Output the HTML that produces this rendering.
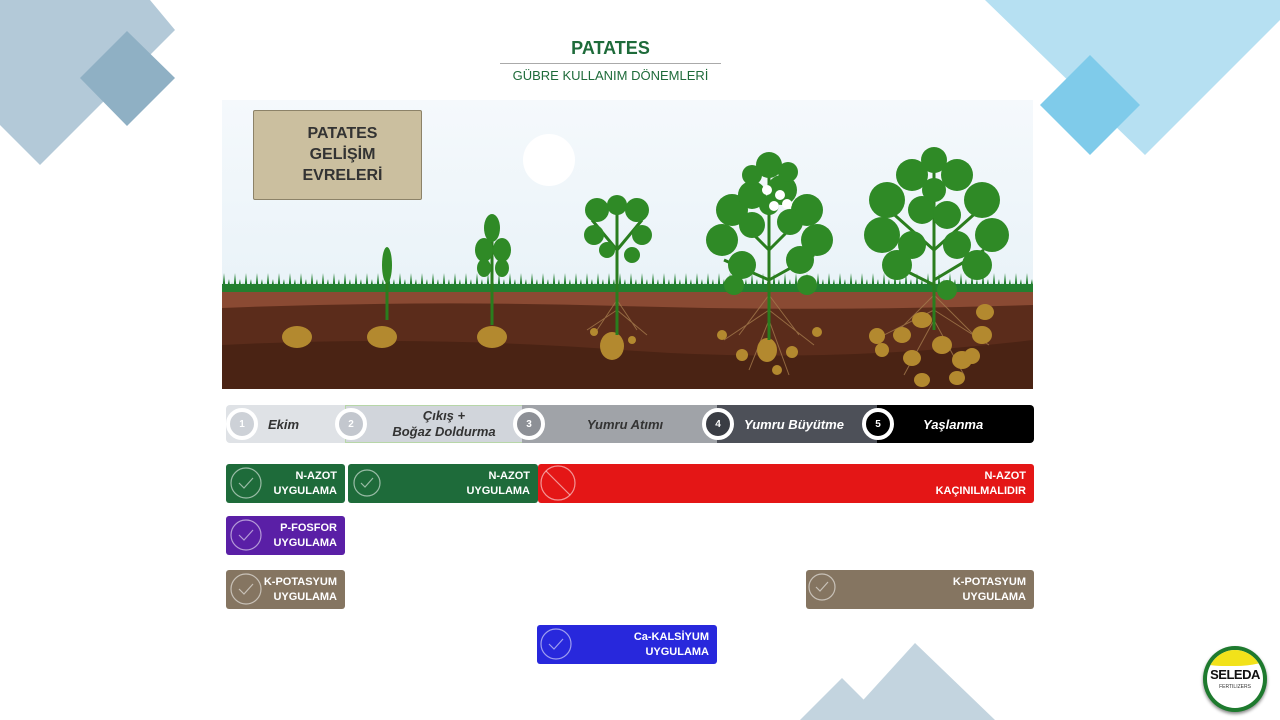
<!DOCTYPE html>
<html><head><meta charset="utf-8"><style>
*{margin:0;padding:0;box-sizing:border-box}
body{width:1280px;height:720px;background:#fff;position:relative;overflow:hidden;font-family:"Liberation Sans",sans-serif}
.a{position:absolute}
.box{position:absolute;color:#fff;font-weight:bold;font-size:11px;line-height:15px;text-align:right;padding-right:8px;border-radius:3px;display:flex;align-items:center;justify-content:flex-end}
.seg{position:absolute;top:405px;height:38px;display:flex;align-items:center;font-style:italic;font-weight:bold;font-size:13px}
.c{position:absolute;top:408px;width:32px;height:32px;border-radius:50%;border:4px solid #fff;color:#fff;font-size:10px;font-weight:bold;display:flex;align-items:center;justify-content:center}
</style></head><body>
<svg class="a" style="left:0;top:0" width="1280" height="720">
<polygon points="-60,0 150,0 175,30 40,165 -60,65" fill="#b3c9d8"/>
<polygon points="80,78 127,31 175,78 127,126" fill="#8fb0c4"/>
<polygon points="985,0 1280,0 1280,20 1145,155" fill="#b6e0f2"/>
<polygon points="1040,105 1090,55 1140,105 1090,155" fill="#7fcbea"/>
<polygon points="800,720 842,678 884,720" fill="#c3d4df"/>
<polygon points="845,720 915,643 995,720" fill="#c3d4df"/>
</svg>
<div class="a" style="left:500px;top:38px;width:221px;text-align:center;color:#1e6b3a;font-weight:bold;font-size:18px">PATATES</div>
<div class="a" style="left:500px;top:63px;width:221px;height:1px;background:#aaa"></div>
<div class="a" style="left:500px;top:68px;width:221px;text-align:center;color:#1e6b3a;font-size:13px">GÜBRE KULLANIM DÖNEMLERİ</div>
<svg class="a" style="left:222px;top:100px" width="811" height="289">
<defs><linearGradient id="s" x1="0" y1="0" x2="0" y2="1"><stop offset="0" stop-color="#f5f9fc"/><stop offset="1" stop-color="#e3eff6"/></linearGradient>
<pattern id="g" x="0" y="170" width="11" height="22" patternUnits="userSpaceOnUse"><path d="M0 22 L2 3 L4 22 L7 9 L9 22 L10 12 L11 22Z" fill="#237f2f"/></pattern></defs>
<rect width="811" height="289" fill="url(#s)"/>
<ellipse cx="327" cy="60" rx="26" ry="26" fill="#fff"/>
<rect y="190" width="811" height="99" fill="#5b2c1b"/>
<path d="M0 190 H811 V205 Q600 212 400 206 T0 208Z" fill="#8a4a33"/>
<path d="M0 245 Q200 235 400 250 T811 240 V289 H0Z" fill="#4a2314"/>
<rect x="0" y="170" width="811" height="22" fill="url(#g)"/>
<rect x="0" y="184" width="811" height="8" fill="#237f2f"/>
<g stroke="#a47a4c" stroke-width="1" fill="none" opacity="0.8">
<path d="M395 200 l-20 30 M395 200 l20 30 M395 210 l-30 20 M395 210 l30 25"/>
<path d="M547 195 l-30 40 M547 195 l30 40 M547 210 l-45 30 M547 210 l45 35 M547 220 l-20 50 M547 220 l20 55"/>
<path d="M712 195 l-40 40 M712 195 l40 40 M712 210 l-60 30 M712 210 l55 35 M712 220 l-30 55 M712 220 l30 55"/>
</g>
<g fill="#b3892f">
<ellipse cx="75" cy="237" rx="15" ry="11"/><ellipse cx="160" cy="237" rx="15" ry="11"/><ellipse cx="270" cy="237" rx="15" ry="11"/>
<ellipse cx="390" cy="246" rx="12" ry="14"/><ellipse cx="372" cy="232" rx="4" ry="4"/><ellipse cx="410" cy="240" rx="4" ry="4"/>
<ellipse cx="545" cy="250" rx="10" ry="12"/><ellipse cx="520" cy="255" rx="6" ry="6"/><ellipse cx="570" cy="252" rx="6" ry="6"/><ellipse cx="500" cy="235" rx="5" ry="5"/><ellipse cx="595" cy="232" rx="5" ry="5"/><ellipse cx="555" cy="270" rx="5" ry="5"/>
<ellipse cx="700" cy="220" rx="10" ry="8"/><ellipse cx="680" cy="235" rx="9" ry="8"/><ellipse cx="720" cy="245" rx="10" ry="9"/><ellipse cx="690" cy="258" rx="9" ry="8"/><ellipse cx="740" cy="260" rx="10" ry="9"/><ellipse cx="760" cy="235" rx="10" ry="9"/><ellipse cx="655" cy="236" rx="8" ry="8"/><ellipse cx="700" cy="280" rx="8" ry="7"/><ellipse cx="735" cy="278" rx="8" ry="7"/><ellipse cx="763" cy="212" rx="9" ry="8"/><ellipse cx="750" cy="256" rx="8" ry="8"/><ellipse cx="660" cy="250" rx="7" ry="7"/>
</g>
<g stroke="#2a7d1e" stroke-width="3" fill="none">
<path d="M165 220 V150"/><path d="M270 225 V120"/><path d="M395 235 V110"/><path d="M547 240 V70"/><path d="M712 230 V55"/>
<path d="M395 150 l-25 -30 M395 150 l25 -30"/><path d="M547 150 l-40 -40 M547 150 l40 -40 M547 180 l-45 -20 M547 180 l45 -25"/>
<path d="M712 150 l-45 -40 M712 150 l45 -40 M712 185 l-50 -25 M712 180 l50 -30"/>
</g>
<g fill="#2f8a26">
<ellipse cx="165" cy="165" rx="5" ry="18"/>
<ellipse cx="262" cy="150" rx="9" ry="12"/><ellipse cx="280" cy="150" rx="9" ry="12"/><ellipse cx="270" cy="128" rx="8" ry="14"/><ellipse cx="262" cy="168" rx="7" ry="9"/><ellipse cx="280" cy="168" rx="7" ry="9"/>
<circle cx="375" cy="110" r="12"/><circle cx="395" cy="105" r="10"/><circle cx="415" cy="110" r="12"/><circle cx="372" cy="135" r="10"/><circle cx="420" cy="135" r="10"/><circle cx="385" cy="150" r="8"/><circle cx="410" cy="155" r="8"/>
<circle cx="510" cy="110" r="16"/><circle cx="530" cy="95" r="14"/><circle cx="560" cy="90" r="15"/><circle cx="585" cy="110" r="16"/><circle cx="500" cy="140" r="16"/><circle cx="595" cy="140" r="16"/><circle cx="520" cy="165" r="14"/><circle cx="578" cy="160" r="14"/><circle cx="547" cy="65" r="13"/><circle cx="512" cy="185" r="10"/><circle cx="585" cy="185" r="10"/><circle cx="530" cy="125" r="13"/><circle cx="568" cy="122" r="13"/><circle cx="547" cy="105" r="10"/><circle cx="530" cy="75" r="10"/><circle cx="566" cy="72" r="10"/>
<circle cx="690" cy="75" r="16"/><circle cx="712" cy="60" r="13"/><circle cx="735" cy="75" r="16"/><circle cx="665" cy="100" r="18"/><circle cx="760" cy="100" r="18"/><circle cx="660" cy="135" r="18"/><circle cx="770" cy="135" r="17"/><circle cx="675" cy="165" r="15"/><circle cx="755" cy="165" r="15"/><circle cx="700" cy="110" r="14"/><circle cx="725" cy="115" r="14"/><circle cx="690" cy="145" r="14"/><circle cx="735" cy="145" r="14"/><circle cx="725" cy="190" r="10"/><circle cx="712" cy="90" r="12"/>
</g>
<g fill="#fff"><circle cx="545" cy="90" r="5"/><circle cx="558" cy="95" r="5"/><circle cx="552" cy="106" r="5"/><circle cx="565" cy="104" r="5"/></g>
</svg>
<div class="a" style="left:253px;top:110px;width:169px;height:90px;background:#cbbf9f;border:1px solid #8c8268;border-radius:2px;color:#333;font-weight:bold;font-size:16px;line-height:21px;text-align:center;padding-top:12px;padding-left:10px">PATATES<br>GELİŞİM<br>EVRELERİ</div>

<div class="seg" style="left:226px;width:121px;background:#dfe2e6;border-radius:4px 0 0 4px;color:#333;padding-left:42px">Ekim</div>
<div class="seg" style="left:345px;width:178px;background:#d1d5db;border:1px solid #b7d6a8;color:#333;justify-content:center;text-align:center;line-height:16px;padding-left:20px">Çıkış +<br>Boğaz Doldurma</div>
<div class="seg" style="left:522px;width:196px;background:#a0a3a8;color:#333;justify-content:center;padding-left:10px">Yumru Atımı</div>
<div class="seg" style="left:717px;width:161px;background:#4d5058;color:#fff;padding-left:27px">Yumru Büyütme</div>
<div class="seg" style="left:877px;width:157px;background:#000;color:#fff;border-radius:0 4px 4px 0;padding-left:46px">Yaşlanma</div>
<div class="c" style="left:226px;background:#cdd1d7">1</div>
<div class="c" style="left:335px;background:#c3c7ce">2</div>
<div class="c" style="left:513px;background:#8d9096">3</div>
<div class="c" style="left:702px;background:#3a3d44">4</div>
<div class="c" style="left:862px;background:#000">5</div>

<div class="box" style="left:226px;top:464px;width:119px;height:39px;background:#1e6b3a">N-AZOT<br>UYGULAMA</div>
<div class="box" style="left:348px;top:464px;width:190px;height:39px;background:#1e6b3a">N-AZOT<br>UYGULAMA</div>
<div class="box" style="left:538px;top:464px;width:496px;height:39px;background:#e41616">N-AZOT<br>KAÇINILMALIDIR</div>
<div class="box" style="left:226px;top:516px;width:119px;height:39px;background:#5a1fa6">P-FOSFOR<br>UYGULAMA</div>
<div class="box" style="left:226px;top:570px;width:119px;height:39px;background:#857561">K-POTASYUM<br>UYGULAMA</div>
<div class="box" style="left:806px;top:570px;width:228px;height:39px;background:#857561">K-POTASYUM<br>UYGULAMA</div>
<div class="box" style="left:537px;top:625px;width:180px;height:39px;background:#2828dc">Ca-KALSİYUM<br>UYGULAMA</div>
<svg class="a" style="left:0;top:0" width="1280" height="720" fill="none" stroke="rgba(255,255,255,0.55)" stroke-width="1.2">
<circle cx="246" cy="483" r="15"/><path d="M239 483l5 5 9-10"/>
<circle cx="367" cy="483" r="13"/><path d="M361 483l4 4 8-9"/>
<circle cx="246" cy="535" r="15"/><path d="M239 535l5 5 9-10"/>
<circle cx="246" cy="589" r="15"/><path d="M239 589l5 5 9-10"/>
<circle cx="822" cy="587" r="13"/><path d="M816 587l4 4 8-9"/>
<circle cx="556" cy="644" r="15"/><path d="M549 644l5 5 9-10"/>
<circle cx="558" cy="483" r="17"/><path d="M546 471l24 24"/>
</svg>
<div class="a" style="left:1203px;top:646px;width:64px;height:66px;border-radius:50%;background:#1e7a2e;box-shadow:0 2px 3px #888"></div>
<div class="a" style="left:1207px;top:650px;width:56px;height:58px;border-radius:50%;background:#fff;overflow:hidden"><div style="position:absolute;left:-4px;top:0;width:64px;height:16px;background:#f2e21a;border-radius:0 0 50% 30%"></div></div>
<div class="a" style="left:1205px;top:667px;width:60px;text-align:center;font-weight:bold;font-size:13px;color:#111;letter-spacing:-0.5px">SELEDA</div>
<div class="a" style="left:1205px;top:684px;width:60px;text-align:center;font-size:5px;color:#333">FERTILIZERS</div>
</body></html>
